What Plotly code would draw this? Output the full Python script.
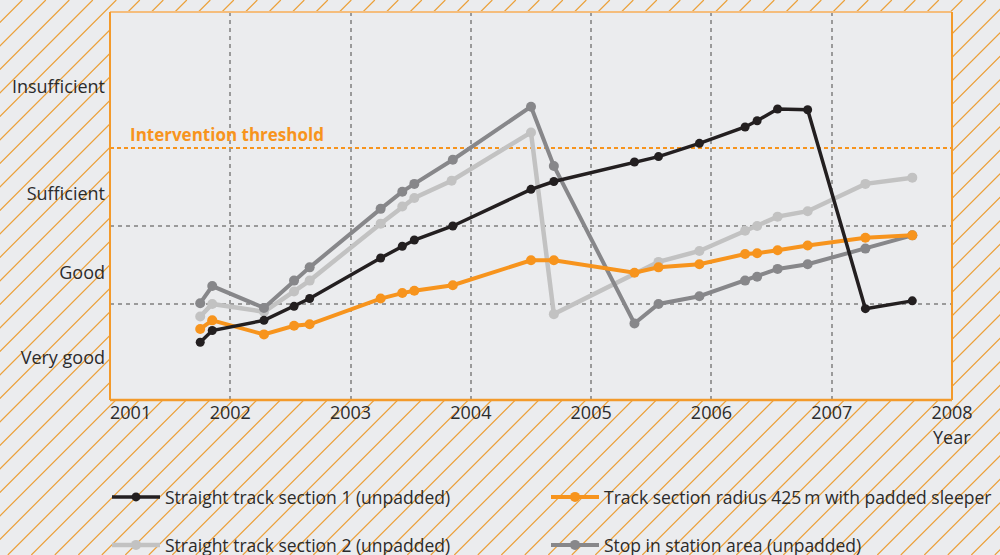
import plotly.graph_objects as go

# ---------------- data ----------------
years = [2001, 2002, 2003, 2004, 2005, 2006, 2007, 2008]
rating_labels = ["Very good", "Good", "Sufficient", "Insufficient"]
rating_pos = [0.31, 1.40, 2.42, 3.78]
band_bounds = [1, 2]
threshold = 3

x_common = [2001.75, 2001.85, 2002.28, 2002.53, 2002.66, 2003.25, 2003.43, 2003.53, 2003.85, 2004.50,
            2004.69, 2005.36, 2005.56, 2005.90, 2006.28, 2006.38, 2006.55, 2006.80, 2007.28, 2007.67]

s1_name = "Straight track section 1 (unpadded)"
s1_y = [0.51, 0.66, 0.79, 0.97, 1.07, 1.59, 1.74, 1.82, 2.00, 2.47,
        2.57, 2.82, 2.89, 3.06, 3.27, 3.35, 3.50, 3.49, 0.94, 1.04]

s2_name = "Straight track section 2 (unpadded)"
s2_x = [2001.75, 2001.85, 2002.28, 2002.53, 2002.66, 2003.25, 2003.43, 2003.53, 2003.84, 2004.50,
        2004.69, 2005.56, 2005.90, 2006.28, 2006.38, 2006.55, 2006.80, 2007.28, 2007.67]
s2_y = [0.84, 1.00, 0.90, 1.16, 1.30, 2.03, 2.25, 2.36, 2.58, 3.20,
        0.87, 1.54, 1.68, 1.94, 2.00, 2.12, 2.19, 2.54, 2.62]

s3_name = "Track section radius 425\u2009m with padded sleeper"
s3_y = [0.68, 0.79, 0.61, 0.72, 0.74, 1.07, 1.14, 1.17, 1.24, 1.56,
        1.56, 1.40, 1.47, 1.51, 1.64, 1.65, 1.69, 1.75, 1.85, 1.88]

s4_name = "Stop in station area (unpadded)"
s4_y = [1.01, 1.23, 0.95, 1.30, 1.47, 2.22, 2.44, 2.54, 2.85, 3.53,
        2.77, 0.75, 1.00, 1.10, 1.30, 1.35, 1.45, 1.51, 1.71, 1.88]

# ---------------- style ----------------
BG = "#EBECEE"
HATCH = "#EBA03A"
ORANGE = "#F7941D"
BORDER = "#F39A2B"
TXT = "#2B2B2B"
FONT = "Open Sans"
W, H = 1000, 555
X0, X1 = 110, 952          # plot area pixels
Y0, Y1 = 12, 400

fig = go.Figure()

fig.add_trace(go.Scatter(x=s2_x, y=s2_y, name=s2_name, mode="lines+markers",
                         line=dict(color="#C2C2C2", width=4.5), marker=dict(size=10, color="#C2C2C2"),
                         legend="legend3"))
fig.add_trace(go.Scatter(x=x_common, y=s4_y, name=s4_name, mode="lines+markers",
                         line=dict(color="#87878A", width=4), marker=dict(size=10, color="#87878A"),
                         legend="legend4"))
fig.add_trace(go.Scatter(x=x_common, y=s3_y, name=s3_name, mode="lines+markers",
                         line=dict(color=ORANGE, width=4), marker=dict(size=10, color=ORANGE),
                         legend="legend2"))
fig.add_trace(go.Scatter(x=x_common, y=s1_y, name=s1_name, mode="lines+markers",
                         line=dict(color="#231F20", width=3.5), marker=dict(size=9, color="#231F20"),
                         legend="legend"))

# hatched background (decoration) as one path in paper coordinates
step = 23.5
c = 398.3 % step
segs = []
while c < W + H + step:
    segs.append(f"M{c / W:.5f},1 L{(c - H) / W:.5f},0")
    c += step
shapes = [
    dict(type="path", xref="paper", yref="paper", path=" ".join(segs),
         line=dict(color=HATCH, width=1.2), layer="below"),
    dict(type="rect", xref="paper", yref="paper", x0=X0 / W, x1=X1 / W, y0=1 - Y1 / H, y1=1 - Y0 / H,
         fillcolor=BG, line=dict(width=0), layer="below"),
    # threshold
    dict(type="line", xref="x domain", yref="y", x0=0, x1=1, y0=threshold, y1=threshold,
         line=dict(color=ORANGE, width=2, dash="4px,3px"), layer="below"),
    # border
    dict(type="line", xref="paper", yref="paper", x0=X0 / W, x1=X1 / W, y0=1 - Y0 / H, y1=1 - Y0 / H,
         line=dict(color="#F5BD7C", width=2)),
    dict(type="line", xref="paper", yref="paper", x0=X0 / W, x1=X0 / W, y0=1 - Y1 / H, y1=1 - Y0 / H,
         line=dict(color=BORDER, width=2)),
    dict(type="line", xref="paper", yref="paper", x0=X1 / W, x1=X1 / W, y0=1 - Y1 / H, y1=1 - Y0 / H,
         line=dict(color=BORDER, width=2)),
    dict(type="line", xref="paper", yref="paper", x0=X0 / W, x1=X1 / W, y0=1 - Y1 / H, y1=1 - Y1 / H,
         line=dict(color=BORDER, width=2.5)),
]

annotations = [
    dict(text="<b>Intervention threshold</b>", x=2001, xshift=18, y=threshold, yshift=14,
         xref="x", yref="y", xanchor="left", yanchor="middle", showarrow=False,
         font=dict(family=FONT, size=17, color=ORANGE)),
    dict(text="Year", x=2008, y=1 - 437 / H, xref="x", yref="paper", xanchor="center", yanchor="middle",
         showarrow=False, font=dict(family=FONT, size=18, color=TXT)),
    dict(text=str(years[0]), x=years[0], xshift=20, y=1 - 412 / H, xref="x", yref="paper",
         xanchor="center", yanchor="middle", showarrow=False, font=dict(family=FONT, size=18, color=TXT)),
]


def leg(xpx, ypx):
    return dict(orientation="h", x=xpx / W, y=1 - ypx / H, xanchor="left", yanchor="middle",
                bgcolor="rgba(0,0,0,0)", itemwidth=48,
                font=dict(family=FONT, size=17.5, color=TXT))


fig.update_layout(
    width=W, height=H,
    margin=dict(l=0, r=0, t=0, b=0, autoexpand=False),
    paper_bgcolor=BG, plot_bgcolor="rgba(0,0,0,0)",
    font=dict(family=FONT, color=TXT),
    shapes=shapes, annotations=annotations,
    xaxis=dict(domain=[X0 / W, X1 / W], range=[2001, 2008], tickmode="array",
               tickvals=years, ticktext=[""] + [str(y) for y in years[1:]],
               showgrid=True, gridcolor="#9A9A9A", griddash="4px,4px", gridwidth=1.5,
               zeroline=False, showline=False, ticks="", tickfont=dict(size=18, color=TXT),
               automargin=False, fixedrange=True),
    yaxis=dict(domain=[1 - Y1 / H, 1 - Y0 / H], range=[-0.231, 4.744], tickmode="array",
               tickvals=rating_pos, ticktext=rating_labels, showgrid=False, zeroline=False,
               showline=False, ticks="", tickfont=dict(size=18, color=TXT), ticklabelstandoff=4,
               minor=dict(tickmode="array", tickvals=band_bounds, showgrid=True, gridcolor="#9A9A9A",
                          griddash="4px,4px", gridwidth=1.5, ticks=""),
               automargin=False, fixedrange=True),
    legend=leg(107, 497),
    legend2=leg(546, 497),
    legend3=leg(107, 545),
    legend4=leg(546, 545),
    showlegend=True,
)

fig.write_html("out.html", config={"displayModeBar": False},
               post_script="document.body.style.margin='0';document.body.style.overflow='hidden';")
